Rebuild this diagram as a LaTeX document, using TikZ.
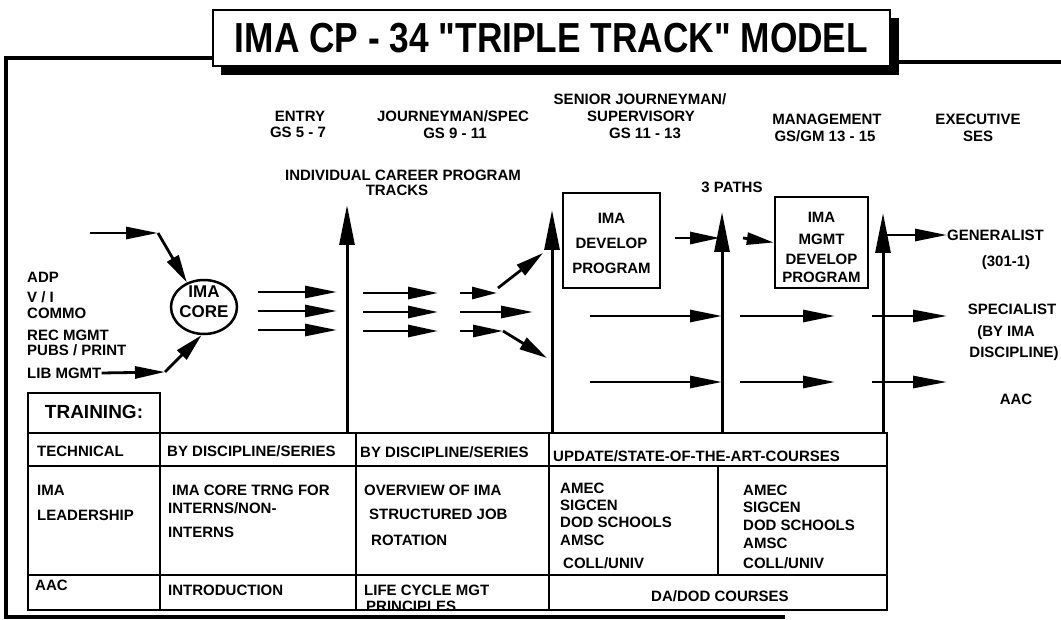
\documentclass[tikz,border=0pt]{standalone}
\usepackage{fontspec}
\setmainfont{Liberation Sans}
\newfontfamily\titlefont[Ligatures=TeXOff]{Liberation Sans}
\usetikzlibrary{arrows.meta,shapes.geometric}
\begin{document}
\begin{tikzpicture}[x=1pt,y=-1pt,
 lbl/.style={font=\bfseries\fontsize{15}{17}\selectfont,inner sep=0pt,text height=11pt,text depth=0pt},
 lw/.style={lbl,anchor=west},
 tbl/.style={line width=2pt},
 frameline/.style={line width=3.5pt},
 boxx/.style={draw,line width=2.5pt,inner sep=0pt},
 harr/.style={line width=2.8pt,-{Triangle[length=32pt,width=12pt]}},
 sarr/.style={line width=2.8pt,-{Triangle[length=25pt,width=12pt]}},
 darr/.style={line width=2.8pt,-{Triangle[length=28pt,width=13pt]}},
 varr/.style={line width=3pt,-{Triangle[length=40pt,width=15pt]}}]
\fill[white] (0,0) rectangle (1061,620);
\useasboundingbox (0,0) rectangle (1061,620);

% outer frame
\draw[frameline] (213,58) -- (6,58) -- (6,617) -- (785,617);
\draw[frameline] (899,62) -- (1061,62);

% title with shadow
\fill (221,18) rectangle (899,75);
\node[boxx,line width=2pt,fill=white,minimum width=677pt,minimum height=56pt] (title) at (551.5,38)
  {\scalebox{0.84}[1]{\titlefont\bfseries\fontsize{42}{42}\selectfont IMA CP - 34 "TRIPLE TRACK" MODEL}};

% column headers
\node[lbl] (h1a) at (300,116) {ENTRY};
\node[lbl] (h1b) at (298,132) {GS 5 - 7};
\node[lbl] (h2a) at (453,116) {JOURNEYMAN/SPEC};
\node[lbl] (h2b) at (455,133) {GS 9 - 11};
\node[lbl] (h3a) at (640,99) {SENIOR JOURNEYMAN/};
\node[lbl] (h3b) at (641,116) {SUPERVISORY};
\node[lbl] (h3c) at (645,133) {GS 11 - 13};
\node[lbl] (h4a) at (827,119) {MANAGEMENT};
\node[lbl] (h4b) at (825,136) {GS/GM 13 - 15};
\node[lbl] (h5a) at (978,119) {EXECUTIVE};
\node[lbl] (h5b) at (978,136) {SES};
\node[lbl] (ind1) at (403,175) {INDIVIDUAL CAREER PROGRAM};
\node[lbl] (ind2) at (397,190) {TRACKS};
\node[lbl] (paths) at (732,187) {3 PATHS};

% left labels
\node[lw] (adp) at (27,277) {ADP};
\node[lw] (vi) at (27,297) {V / I};
\node[lw] (commo) at (27,313) {COMMO};
\node[lw] (recm) at (27,335) {REC MGMT};
\node[lw] (pubs) at (27,350) {PUBS / PRINT};
\node[lw] (libm) at (27,373) {LIB MGMT};

% IMA core
\node[draw,ellipse,line width=2.5pt,minimum width=66pt,minimum height=54pt,inner sep=0pt] (core) at (204,307) {};
\node[lbl,font=\bfseries\fontsize{17}{20}\selectfont,text height=12.2pt] (coret) at (204,291) {IMA};
\node[lbl,font=\bfseries\fontsize{17}{20}\selectfont,text height=12.2pt] (coreb) at (204,311) {CORE};

% boxes
\node[boxx,minimum width=97pt,minimum height=95pt] (dev) at (611.5,240.5) {};
\node[lbl] (dev1) at (611.5,218) {IMA};
\node[lbl] (dev2) at (611.5,243) {DEVELOP};
\node[lbl] (dev3) at (611.5,268) {PROGRAM};
\node[boxx,minimum width=93pt,minimum height=91pt] (mgmt) at (821.5,242.5) {};
\node[lbl] (mg1) at (821.5,217) {IMA};
\node[lbl] (mg2) at (821.5,239) {MGMT};
\node[lbl] (mg3) at (821.5,259) {DEVELOP};
\node[lbl] (mg4) at (821.5,277) {PROGRAM};

% right labels
\node[lw] (gen) at (947,235) {GENERALIST};
\node[lbl] (gen2) at (1006,261) {(301-1)};
\node[lbl] (spec1) at (1012,309) {SPECIALIST};
\node[lbl] (spec2) at (1006,331) {(BY IMA};
\node[lbl] (spec3) at (1014,352) {DISCIPLINE)};
\node[lbl] (aac) at (1016,399) {AAC};

% coordinates
\coordinate (in1s) at (90,233);
\coordinate (in1e) at (158,233);
\coordinate (in2e) at (165,372);
\foreach \y/\n in {292/a,311/b,330/c}{
  \coordinate (c\n s) at (258,\y); \coordinate (c\n e) at (337,\y);}
\foreach \y/\n in {293/a,312/b,331/c}{
  \coordinate (g\n s) at (363,\y); \coordinate (g\n e) at (438,\y);}
\coordinate (tas) at (460,293); \coordinate (tae) at (497,293);
\coordinate (tad) at (498,288); \coordinate (tadE) at (543,253);
\coordinate (tbs) at (460,312); \coordinate (tbe) at (533,312);
\coordinate (tcs) at (460,331); \coordinate (tce) at (503,331);
\coordinate (tcdE) at (547,358);
\coordinate (v1b) at (347,433); \coordinate (v1t) at (347,205);
\coordinate (v2b) at (552,433); \coordinate (v2t) at (552,210);
\coordinate (v3b) at (722,433); \coordinate (v3t) at (722,212);
\coordinate (v4b) at (883,433); \coordinate (v4t) at (883,213);
\coordinate (d1s) at (675,238); \coordinate (d1e) at (720,238);
\coordinate (d2s) at (743,238);
\coordinate (gs) at (883,235);
\foreach \y/\n in {316/a,382/b}{
  \coordinate (p\n1s) at (590,\y); \coordinate (p\n1e) at (722,\y);
  \coordinate (p\n2s) at (740,\y); \coordinate (p\n2e) at (835,\y);
  \coordinate (p\n3s) at (872,\y); \coordinate (p\n3e) at (947,\y);}

% arrows into core
\draw[harr] (in1s) -- (in1e);
\draw[darr] (in1e) -- (core.125);
\draw[sarr,-{Triangle[length=30pt,width=12pt]}] (libm.east) -- (in2e);
\draw[darr] (in2e) -- (core.-95);

% track arrows
\foreach \n in {a,b,c}{
  \draw[harr] (c\n s) -- (c\n e);
  \draw[harr,-{Triangle[length=30pt,width=12pt]}] (g\n s) -- (g\n e);}
\draw[sarr] (tas) -- (tae);
\draw[darr] (tad) -- (tadE);
\draw[harr] (tbs) -- (tbe);
\draw[harr,-{Triangle[length=30pt,width=12pt]}] (tcs) -- (tce);
\draw[darr] (tce) -- (tcdE);

% vertical arrows
\draw[varr] (v1b) -- (v1t);
\draw[varr] (v2b) -- (v2t);
\draw[varr] (v3b) -- (v3t);
\draw[varr] (v4b) -- (v4t);

% paths
\draw[harr,-{Triangle[length=30pt,width=12pt]}] (d1s) -- (d1e);
\draw[sarr,-{Triangle[length=27pt,width=12pt]}] (d2s) -- (mgmt.west);
\draw[harr] (gs) -- (gen.west);
\foreach \n in {a,b}{
  \draw[harr] (p\n1s) -- (p\n1e);
  \draw[harr] (p\n2s) -- (p\n2e);
  \draw[harr,-{Triangle[length=34pt,width=12pt]}] (p\n3s) -- (p\n3e);}

% training table
\draw[tbl] (28,393) rectangle (160,433);
\draw[tbl] (28,433) rectangle (887,610);
\draw[tbl] (28,466) -- (887,466);
\draw[tbl] (28,575) -- (887,575);
\draw[tbl] (160,433) -- (160,610);
\draw[tbl] (356,433) -- (356,610);
\draw[tbl] (549,433) -- (549,610);
\draw[tbl] (718,466) -- (718,575);

\node[lbl,font=\bfseries\fontsize{19}{21}\selectfont,text height=13.6pt] (train) at (94,412) {TRAINING:};
\node[lw] (t11) at (37,451) {TECHNICAL};
\node[lw] (t12) at (167,451) {BY DISCIPLINE/SERIES};
\node[lw] (t13) at (360,452) {BY DISCIPLINE/SERIES};
\node[lw] (t14) at (553,456) {UPDATE/STATE-OF-THE-ART-COURSES};
\node[lw] (t21a) at (37,490) {IMA};
\node[lw] (t21b) at (37,515) {LEADERSHIP};
\node[lw] (t22a) at (172,490) {IMA CORE TRNG FOR};
\node[lw] (t22b) at (168,508) {INTERNS/NON-};
\node[lw] (t22c) at (168,532) {INTERNS};
\node[lw] (t23a) at (364,490) {OVERVIEW OF IMA};
\node[lw] (t23b) at (369,514) {STRUCTURED JOB};
\node[lw] (t23c) at (371,540) {ROTATION};
\node[lw] (t24a) at (560,488) {AMEC};
\node[lw] (t24b) at (560,505) {SIGCEN};
\node[lw] (t24c) at (560,522) {DOD SCHOOLS};
\node[lw] (t24d) at (560,540) {AMSC};
\node[lw] (t24e) at (563,563) {COLL/UNIV};
\node[lw] (t25a) at (743,490) {AMEC};
\node[lw] (t25b) at (743,507) {SIGCEN};
\node[lw] (t25c) at (743,525) {DOD SCHOOLS};
\node[lw] (t25d) at (743,543) {AMSC};
\node[lw] (t25e) at (743,563) {COLL/UNIV};
\node[lw] (t31) at (35,585) {AAC};
\node[lw] (t32) at (168,590) {INTRODUCTION};
\node[lw] (t33a) at (364,590) {LIFE CYCLE MGT};
\node[lw] (t33b) at (366,606) {PRINCIPLES};
\node[lbl] (t34) at (720,596) {DA/DOD COURSES};
\end{tikzpicture}
\end{document}
